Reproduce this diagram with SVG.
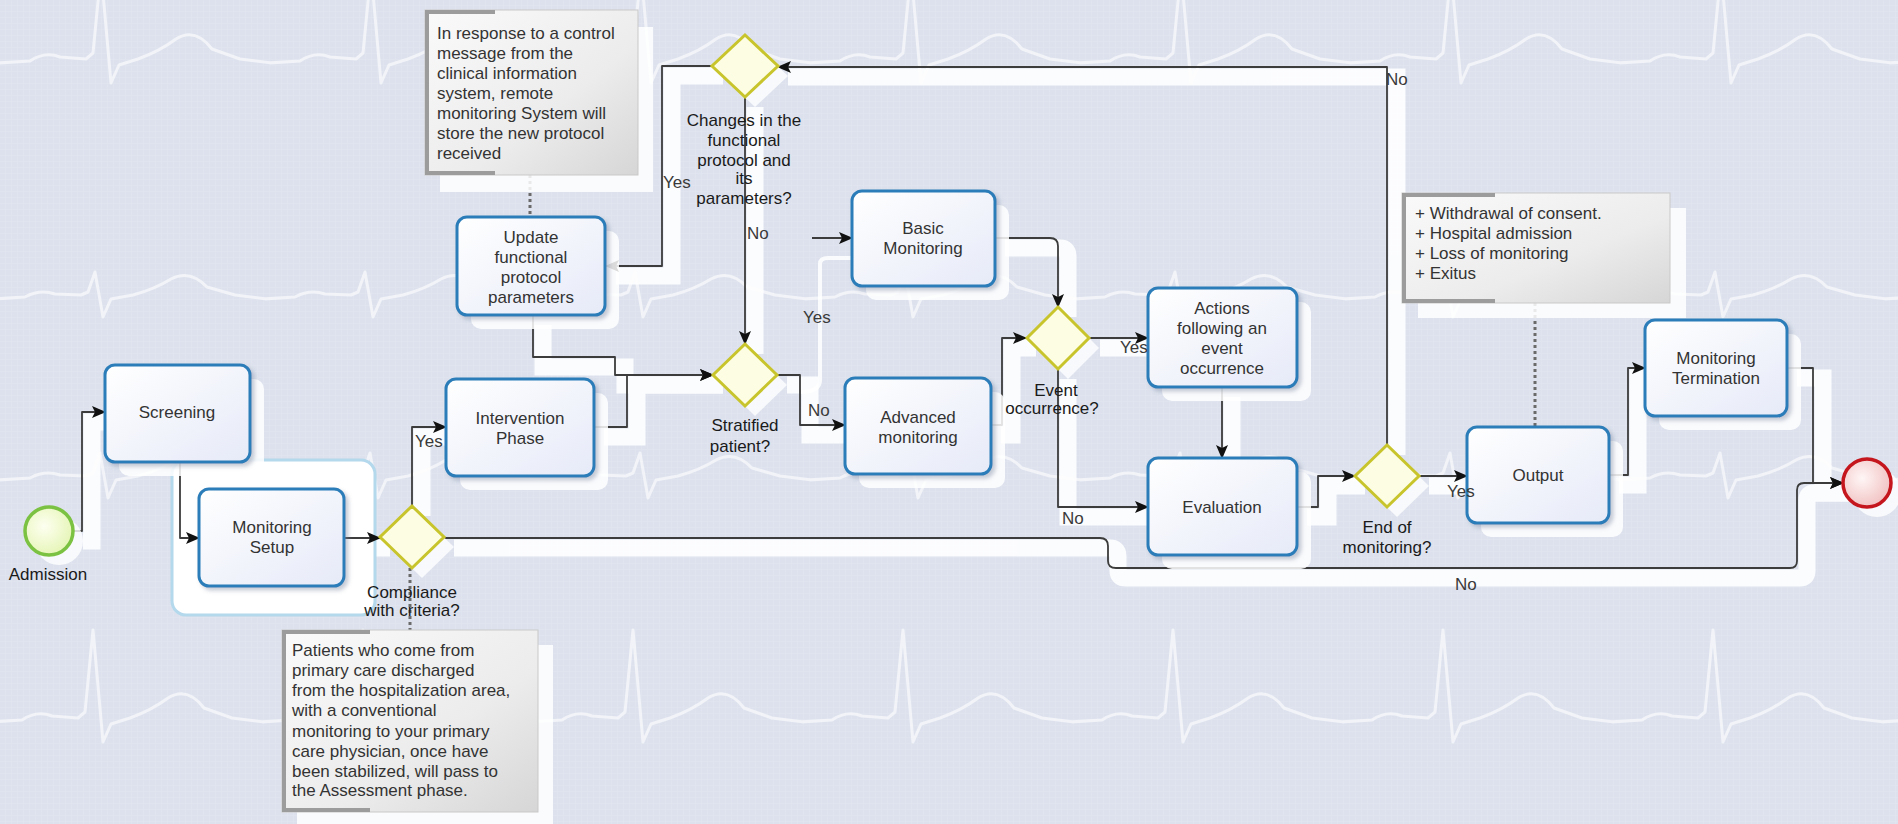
<svg xmlns="http://www.w3.org/2000/svg" xmlns:xlink="http://www.w3.org/1999/xlink" width="1898" height="824" viewBox="0 0 1898 824">
  <defs>
    <style>
      text { font-family: "Liberation Sans", Arial, sans-serif; font-size: 17px; }
      .tl { fill: #333; text-anchor: middle; }
      .gl { fill: #1a1a1a; text-anchor: middle; }
      .fl { fill: #3a3a3a; }
      .nt { fill: #333; }
      .task { fill: url(#taskFill); stroke: #2b7db8; stroke-width: 3; filter: url(#soft); }
      .tshadow { fill: #ffffff; opacity: 0.85; }
      .gw { fill: #fdfde4; stroke: #c8c52c; stroke-width: 3; }
      .gshadow { fill: #ffffff; opacity: 0.8; }
      .note { fill: url(#noteFill); stroke: #c9c9c9; stroke-width: 1; }
      .nshadow { fill: #ffffff; opacity: 0.85; }
      .nedge { stroke: #9c9c9c; stroke-width: 4; fill: none; }
      .assoc { stroke: #6a6a6a; stroke-width: 3; stroke-dasharray: 3 3; fill: none; }
      .ecg { fill: none; stroke: #ffffff; stroke-width: 3; stroke-linejoin: round; stroke-linecap: round; opacity: 0.6; }
    </style>
    <linearGradient id="taskFill" x1="0" y1="0" x2="1" y2="1">
      <stop offset="0" stop-color="#ffffff"/>
      <stop offset="1" stop-color="#e6eaf8"/>
    </linearGradient>
    <linearGradient id="noteFill" x1="0" y1="0" x2="1" y2="1">
      <stop offset="0" stop-color="#fafafa"/>
      <stop offset="0.6" stop-color="#ececec"/>
      <stop offset="1" stop-color="#d6d6d6"/>
    </linearGradient>
    <radialGradient id="startFill" cx="0.4" cy="0.4" r="0.7">
      <stop offset="0" stop-color="#fdfff0"/>
      <stop offset="1" stop-color="#e3f4b0"/>
    </radialGradient>
    <radialGradient id="endFill" cx="0.4" cy="0.4" r="0.7">
      <stop offset="0" stop-color="#fff6f6"/>
      <stop offset="1" stop-color="#f0bcbc"/>
    </radialGradient>
    <filter id="soft" x="-10%" y="-10%" width="130%" height="130%">
      <feDropShadow dx="3" dy="3" stdDeviation="2" flood-color="#7f8aa0" flood-opacity="0.45"/>
    </filter>
    <pattern id="grid" width="6" height="6" patternUnits="userSpaceOnUse">
      <path d="M6,0 V6 M0,6 H6" stroke="#e5e8f1" stroke-width="1" fill="none"/>
    </pattern>
    <!-- one heartbeat per tile, baseline at y=80 -->
    <pattern id="beat" width="270" height="160" patternUnits="userSpaceOnUse">
      <path class="ecg" d="M-2,82 L30,80 Q45,72 60,77 L86,78 L93,75 L100,55 L108,100 L116,82 L138,78 Q160,72 176,62 Q195,52 212,70 L240,78 L272,82"/>
    </pattern>
    <pattern id="beatTall" width="270" height="200" patternUnits="userSpaceOnUse">
      <path class="ecg" d="M-2,102 L30,100 Q45,90 60,96 L86,98 L93,92 L101,10 L111,122 L119,104 L138,98 Q160,90 176,78 Q195,66 212,88 L240,98 L272,102"/>
    </pattern>
    <marker id="arrow" markerUnits="userSpaceOnUse" markerWidth="14" markerHeight="12" refX="13" refY="6" orient="auto">
      <path d="M0,0 L14,6 L0,12 L3,6 z" fill="#111"/>
    </marker>

    <!-- sequence flow geometry, shared by the flow lines and their white shadows -->
    <path id="f-start" d="M73,531 H82 V412 H105"/>
    <path id="f-screen" d="M180,462 V538 H199"/>
    <path id="f-setup" d="M344,538 H380"/>
    <path id="f-comp-yes" d="M412,506 V427 H446"/>
    <path id="f-comp-no" d="M444,538 H1100 Q1108,538 1108,546 V561 Q1108,568 1116,568 H1790 Q1797,568 1797,561 V490 Q1797,483 1804,483 H1843"/>
    <path id="f-interv" d="M594,427 H627 V375 H713"/>
    <path id="f-update" d="M533,315 V357 H615 V375 H713"/>
    <path id="f-chg-yes" d="M713,66 H662 V266 H606"/>
    <path id="f-chg-no" d="M745,97 V344"/>
    <path id="f-strat-no" d="M777,375 H800 V425 H845"/>
    <path id="f-strat-yes" d="M812,238 H852"/>
    <path id="f-basic" d="M995,238 H1050 Q1058,238 1058,246 V307"/>
    <path id="f-adv" d="M991,425 H1002 V338 H1026"/>
    <path id="f-evt-yes" d="M1090,338 H1148"/>
    <path id="f-evt-no" d="M1058,369 V507 H1148"/>
    <path id="f-actions" d="M1222,387 V458"/>
    <path id="f-eval" d="M1297,507 H1318 V476 H1355"/>
    <path id="f-end-yes" d="M1419,476 H1467"/>
    <path id="f-end-no" d="M1387,445 V67 H778"/>
    <path id="f-output" d="M1609,475 H1628 V368 H1645"/>
    <path id="f-term" d="M1787,368 H1813 V483 H1843"/>
  </defs>

  <!-- backdrop: tinted grid paper with ECG traces -->
  <g id="backdrop">
    <rect x="0" y="0" width="1898" height="824" fill="#dce1ed"/>
    <rect x="0" y="0" width="1898" height="824" fill="url(#grid)" opacity="0.7"/>
    <g transform="translate(0,-39)"><rect x="0" y="0" width="1910" height="200" fill="url(#beatTall)"/></g>
    <g transform="translate(-5,217)"><rect x="0" y="0" width="1910" height="160" fill="url(#beat)"/></g>
    <g transform="translate(0,398)"><rect x="0" y="0" width="1910" height="160" fill="url(#beat)"/></g>
    <g transform="translate(-8,620)"><rect x="0" y="0" width="1910" height="200" fill="url(#beatTall)"/></g>
  </g>

  <!-- white offset shadows under flows -->
  <g id="flow-shadows" fill="none" stroke="#ffffff" stroke-width="17" opacity="0.9" transform="translate(10,10)">
    <use href="#f-start"/>
    <use href="#f-screen"/>
    <use href="#f-setup"/>
    <use href="#f-comp-yes"/>
    <use href="#f-comp-no"/>
    <use href="#f-interv"/>
    <use href="#f-update"/>
    <use href="#f-chg-yes"/>
    <use href="#f-chg-no"/>
    <use href="#f-strat-no"/>
    <use href="#f-basic"/>
    <use href="#f-adv"/>
    <use href="#f-evt-yes"/>
    <use href="#f-evt-no"/>
    <use href="#f-actions"/>
    <use href="#f-eval"/>
    <use href="#f-end-yes"/>
    <use href="#f-end-no"/>
    <use href="#f-output"/>
    <use href="#f-term"/>
  </g>
  <path d="M800,392 Q820,392 820,380 V264 Q820,258 828,258 H852" fill="none" stroke="#ffffff" stroke-width="4" opacity="0.85"/>

  <!-- sub-process frame around Monitoring Setup -->
  <g id="setup-frame">
    <rect x="172" y="460" width="203" height="155" rx="14" fill="#ffffff" stroke="#b4d8ec" stroke-width="3"/>
  </g>

  <!-- associations to annotations -->
  <g id="associations">
    <path class="assoc" d="M530,175 V217"/>
    <path class="assoc" d="M410,568 V630"/>
    <path class="assoc" d="M1535,303 V427"/>
  </g>

  <!-- sequence flows -->
  <g id="connectors" fill="none" stroke="#3c3c3c" stroke-width="1.8" stroke-linejoin="round" marker-end="url(#arrow)">
    <use href="#f-start"/>
    <use href="#f-screen"/>
    <use href="#f-setup"/>
    <use href="#f-comp-yes"/>
    <use href="#f-comp-no"/>
    <use href="#f-interv"/>
    <use href="#f-update"/>
    <use href="#f-chg-yes"/>
    <use href="#f-chg-no"/>
    <use href="#f-strat-no"/>
    <use href="#f-strat-yes"/>
    <use href="#f-basic"/>
    <use href="#f-adv"/>
    <use href="#f-evt-yes"/>
    <use href="#f-evt-no"/>
    <use href="#f-actions"/>
    <use href="#f-eval"/>
    <use href="#f-end-yes"/>
    <use href="#f-end-no"/>
    <use href="#f-output"/>
    <use href="#f-term"/>
  </g>

  <!-- events -->
  <g id="start-admission">
    <circle cx="59" cy="541" r="24" fill="#ffffff" opacity="0.8"/>
    <circle cx="49" cy="531" r="24" fill="url(#startFill)" stroke="#7cc242" stroke-width="3.5"/>
    <text class="gl" x="48" y="580">Admission</text>
  </g>
  <g id="end-event">
    <circle cx="1877" cy="493" r="24" fill="#ffffff" opacity="0.8"/>
    <circle cx="1867" cy="483" r="24" fill="url(#endFill)" stroke="#c4161c" stroke-width="3.5"/>
  </g>

  <!-- tasks -->
  <g id="task-screening">
    <rect class="tshadow" x="119" y="379" width="145" height="97" rx="10"/>
    <rect class="task" x="105" y="365" width="145" height="97" rx="10"/>
    <text class="tl" x="177" y="418">Screening</text>
  </g>
  <g id="task-monitoring-setup">
    <rect class="task" x="199" y="489" width="145" height="97" rx="10"/>
    <text class="tl" x="272" y="533">Monitoring</text>
    <text class="tl" x="272" y="553">Setup</text>
  </g>
  <g id="task-update-protocol">
    <rect class="tshadow" x="471" y="231" width="148" height="98" rx="10"/>
    <rect class="task" x="457" y="217" width="148" height="98" rx="10"/>
    <text class="tl" x="531" y="243">Update</text>
    <text class="tl" x="531" y="263">functional</text>
    <text class="tl" x="531" y="283">protocol</text>
    <text class="tl" x="531" y="303">parameters</text>
  </g>
  <g id="task-intervention">
    <rect class="tshadow" x="460" y="393" width="148" height="97" rx="10"/>
    <rect class="task" x="446" y="379" width="148" height="97" rx="10"/>
    <text class="tl" x="520" y="424">Intervention</text>
    <text class="tl" x="520" y="444">Phase</text>
  </g>
  <g id="task-basic-monitoring">
    <rect class="tshadow" x="866" y="205" width="143" height="95" rx="10"/>
    <rect class="task" x="852" y="191" width="143" height="95" rx="10"/>
    <text class="tl" x="923" y="234">Basic</text>
    <text class="tl" x="923" y="254">Monitoring</text>
  </g>
  <g id="task-advanced-monitoring">
    <rect class="tshadow" x="859" y="392" width="146" height="96" rx="10"/>
    <rect class="task" x="845" y="378" width="146" height="96" rx="10"/>
    <text class="tl" x="918" y="423">Advanced</text>
    <text class="tl" x="918" y="443">monitoring</text>
  </g>
  <g id="task-actions">
    <rect class="tshadow" x="1162" y="302" width="149" height="99" rx="10"/>
    <rect class="task" x="1148" y="288" width="149" height="99" rx="10"/>
    <text class="tl" x="1222" y="314">Actions</text>
    <text class="tl" x="1222" y="334">following an</text>
    <text class="tl" x="1222" y="354">event</text>
    <text class="tl" x="1222" y="374">occurrence</text>
  </g>
  <g id="task-evaluation">
    <rect class="tshadow" x="1162" y="472" width="149" height="97" rx="10"/>
    <rect class="task" x="1148" y="458" width="149" height="97" rx="10"/>
    <text class="tl" x="1222" y="513">Evaluation</text>
  </g>
  <g id="task-output">
    <rect class="tshadow" x="1481" y="441" width="142" height="96" rx="10"/>
    <rect class="task" x="1467" y="427" width="142" height="96" rx="10"/>
    <text class="tl" x="1538" y="481">Output</text>
  </g>
  <g id="task-monitoring-termination">
    <rect class="tshadow" x="1659" y="334" width="142" height="96" rx="10"/>
    <rect class="task" x="1645" y="320" width="142" height="96" rx="10"/>
    <text class="tl" x="1716" y="364">Monitoring</text>
    <text class="tl" x="1716" y="384">Termination</text>
  </g>

  <!-- gateways -->
  <g id="gw-compliance">
    <polygon class="gshadow" points="422,516 454,547 422,578 390,547"/>
    <polygon class="gw" points="412,506 444,537 412,568 380,537"/>
    <text class="gl" x="412" y="598">Compliance</text>
    <text class="gl" x="412" y="616">with criteria?</text>
  </g>
  <g id="gw-changes">
    <polygon class="gshadow" points="755,45 788,76 755,107 722,76"/>
    <polygon class="gw" points="745,35 778,66 745,97 712,66"/>
    <text class="gl" x="744" y="126">Changes in the</text>
    <text class="gl" x="744" y="146">functional</text>
    <text class="gl" x="744" y="166">protocol and</text>
    <text class="gl" x="744" y="184">its</text>
    <text class="gl" x="744" y="204">parameters?</text>
  </g>
  <g id="gw-stratified">
    <polygon class="gshadow" points="755,354 787,385 755,416 723,385"/>
    <polygon class="gw" points="745,344 777,375 745,406 713,375"/>
    <text class="gl" x="745" y="431">Stratified</text>
    <text class="gl" x="740" y="452">patient?</text>
  </g>
  <g id="gw-event">
    <polygon class="gshadow" points="1068,317 1099,348 1068,379 1037,348"/>
    <polygon class="gw" points="1058,307 1089,338 1058,369 1027,338"/>
    <text class="gl" x="1056" y="396">Event</text>
    <text class="gl" x="1052" y="414">occurrence?</text>
  </g>
  <g id="gw-end-monitoring">
    <polygon class="gshadow" points="1397,455 1429,486 1397,517 1365,486"/>
    <polygon class="gw" points="1387,445 1419,476 1387,507 1355,476"/>
    <text class="gl" x="1387" y="533">End of</text>
    <text class="gl" x="1387" y="553">monitoring?</text>
  </g>

  <!-- flow labels -->
  <g id="flow-labels">
    <text class="fl" x="415" y="447">Yes</text>
    <text class="fl" x="663" y="188">Yes</text>
    <text class="fl" x="747" y="239">No</text>
    <text class="fl" x="803" y="323">Yes</text>
    <text class="fl" x="808" y="416">No</text>
    <text class="fl" x="1120" y="353">Yes</text>
    <text class="fl" x="1062" y="524">No</text>
    <text class="fl" x="1447" y="497">Yes</text>
    <text class="fl" x="1386" y="85">No</text>
    <text class="fl" x="1455" y="590">No</text>
  </g>

  <!-- annotations -->
  <g id="note-protocol">
    <rect class="nshadow" x="440" y="27" width="213" height="165"/>
    <rect class="note" x="425" y="10" width="213" height="165"/>
    <path class="nedge" d="M427,10 V175 M425,12 H495 M425,173 H495"/>
    <text class="nt" x="437" y="39">In response to a control</text>
    <text class="nt" x="437" y="59">message from the</text>
    <text class="nt" x="437" y="79">clinical information</text>
    <text class="nt" x="437" y="99">system, remote</text>
    <text class="nt" x="437" y="119">monitoring System will</text>
    <text class="nt" x="437" y="139">store the new protocol</text>
    <text class="nt" x="437" y="159">received</text>
  </g>
  <g id="note-criteria">
    <rect class="nshadow" x="297" y="645" width="256" height="182"/>
    <rect class="note" x="282" y="630" width="256" height="182"/>
    <path class="nedge" d="M284,630 V812 M282,632 H370 M282,810 H370"/>
    <text class="nt" x="292" y="656">Patients who come from</text>
    <text class="nt" x="292" y="676">primary care discharged</text>
    <text class="nt" x="292" y="696">from the hospitalization area,</text>
    <text class="nt" x="292" y="716">with a conventional</text>
    <text class="nt" x="292" y="737">monitoring to your primary</text>
    <text class="nt" x="292" y="757">care physician, once have</text>
    <text class="nt" x="292" y="777">been stabilized, will pass to</text>
    <text class="nt" x="292" y="796">the Assessment phase.</text>
  </g>
  <g id="note-termination">
    <rect class="nshadow" x="1418" y="208" width="268" height="110"/>
    <rect class="note" x="1402" y="193" width="268" height="110"/>
    <path class="nedge" d="M1404,193 V303 M1402,195 H1495 M1402,301 H1495"/>
    <text class="nt" x="1415" y="219">+ Withdrawal of consent.</text>
    <text class="nt" x="1415" y="239">+ Hospital admission</text>
    <text class="nt" x="1415" y="259">+ Loss of monitoring</text>
    <text class="nt" x="1415" y="279">+ Exitus</text>
  </g>
</svg>
